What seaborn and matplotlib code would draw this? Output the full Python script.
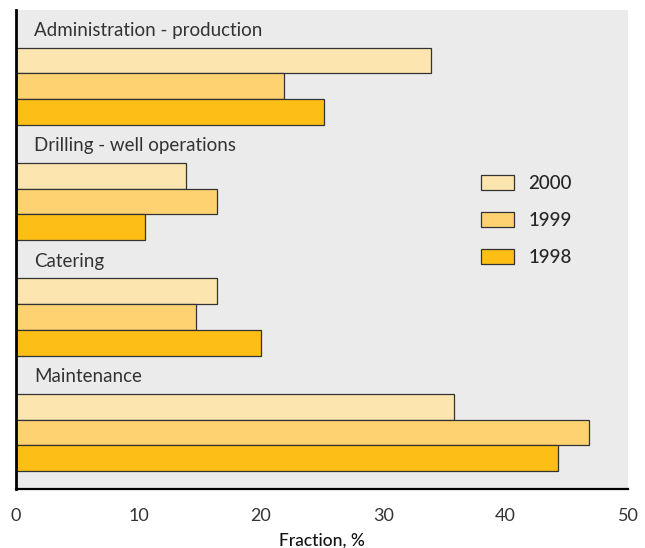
import matplotlib
matplotlib.use("Agg")
import matplotlib.pyplot as plt
import seaborn as sns
import pandas as pd

categories = ["Administration - production", "Drilling - well operations",
              "Catering", "Maintenance"]
years = ["2000", "1999", "1998"]
values_2000 = [33.9, 13.9, 16.4, 35.8]
values_1999 = [21.9, 16.4, 14.7, 46.8]
values_1998 = [25.2, 10.5, 20.0, 44.3]
colors = ["#FDE5B0", "#FED270", "#FDBF16"]
xticks = [0, 10, 20, 30, 40, 50]

rows = []
for yr, vals in zip(years, [values_2000, values_1999, values_1998]):
    for cat, v in zip(categories, vals):
        rows.append({"Category": cat, "Year": yr, "Fraction": v})
df = pd.DataFrame(rows)

sns.set_theme(style="white")
plt.rcParams["font.family"] = ["Lato", "DejaVu Sans"]

fig = plt.figure(figsize=(6.45, 5.48), dpi=100)
ax = fig.add_axes([16 / 645, 1 - 489 / 548, (628 - 16) / 645, (489 - 10) / 548])
ax.set_facecolor("#EBEBEB")

sns.barplot(data=df, x="Fraction", y="Category", hue="Year", order=categories,
            hue_order=years, palette=colors, orient="h", width=0.67,
            edgecolor="#333333", linewidth=0.9, saturation=1, ax=ax)

ax.set_xlim(0, 50)
ax.set_ylim(3.49, -0.66)
ax.set_yticks([])
ax.set_ylabel("")
ax.set_xticks(xticks)
ax.set_xticklabels([str(t) for t in xticks], fontsize=13, color="#333333")
ax.tick_params(axis="x", direction="out", length=7, width=1, color="black", pad=7)
ax.set_xlabel("Fraction, %", fontsize=12.5, color="#111111", labelpad=6,
              fontweight="medium")

for side in ["top", "right"]:
    ax.spines[side].set_visible(False)
for side in ["left", "bottom"]:
    ax.spines[side].set_visible(True)
    ax.spines[side].set_color("black")
ax.spines["left"].set_linewidth(2)
ax.spines["bottom"].set_linewidth(1.6)

for i, cat in enumerate(categories):
    ax.text(1.5, i - 0.485, cat, fontsize=13.5, color="#333333",
            ha="left", va="center")

leg = ax.legend(loc="upper left", bbox_to_anchor=(0.733, 0.69), frameon=False,
                fontsize=13.5, handlelength=1.75, handleheight=0.85,
                labelspacing=1.05, handletextpad=0.75)
for t in leg.get_texts():
    t.set_fontweight("medium")

fig.savefig("out.png", dpi=100, facecolor="white")
